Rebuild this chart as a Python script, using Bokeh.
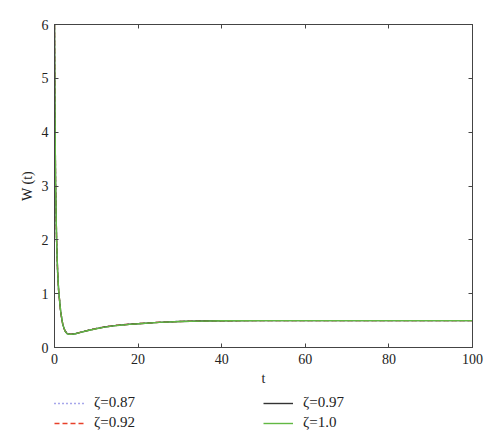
from bokeh.plotting import figure
from bokeh.layouts import column
from bokeh.models import LinearAxis, Legend, LegendItem, Range1d, FixedTicker
from bokeh.embed import file_html
from bokeh.resources import INLINE

# ---- data ----
t = [0, 0.1, 0.25, 0.5, 0.75, 1.0, 1.5, 2.0, 2.5, 3.0, 3.5, 4, 5, 6, 8, 10,
     12, 15, 18, 20, 25, 30, 35, 40, 50, 60, 70, 80, 90, 100]
W_087 = [6.0, 4.55, 3.05, 1.98, 1.38, 1.03, 0.64, 0.42, 0.31, 0.265, 0.25, 0.25,
         0.26, 0.28, 0.32, 0.355, 0.385, 0.415, 0.435, 0.445, 0.47, 0.485, 0.493,
         0.497, 0.5, 0.5, 0.5, 0.5, 0.5, 0.5]
W_092 = [6.0, 4.57, 3.07, 1.99, 1.39, 1.04, 0.645, 0.42, 0.31, 0.262, 0.247, 0.247,
         0.258, 0.278, 0.318, 0.352, 0.382, 0.413, 0.433, 0.443, 0.468, 0.484, 0.492,
         0.497, 0.5, 0.5, 0.5, 0.5, 0.5, 0.5]
W_097 = [6.0, 4.59, 3.09, 2.0, 1.4, 1.045, 0.65, 0.42, 0.31, 0.26, 0.245, 0.245,
         0.256, 0.276, 0.316, 0.35, 0.38, 0.411, 0.431, 0.441, 0.467, 0.483, 0.491,
         0.496, 0.5, 0.5, 0.5, 0.5, 0.5, 0.5]
W_100 = [6.0, 4.6, 3.1, 2.0, 1.4, 1.05, 0.65, 0.42, 0.31, 0.258, 0.243, 0.243,
         0.255, 0.275, 0.315, 0.349, 0.379, 0.41, 0.43, 0.44, 0.466, 0.482, 0.49,
         0.496, 0.5, 0.5, 0.5, 0.5, 0.5, 0.5]
labels = ["ζ=0.87", "ζ=0.92", "ζ=0.97", "ζ=1.0"]
x_ticks = [0, 20, 40, 60, 80, 100]
y_ticks = [0, 1, 2, 3, 4, 5, 6]

FONT = "Liberation Serif"
AX = "#444444"
colors = ["#5050d8", "#e8402a", "#333333", "#62b843"]
dashes = ["1 3", "5 3", "solid", "solid"]
series = [W_087, W_092, W_097, W_100]

p = figure(width=500, height=388, output_backend="svg", toolbar_location=None,
           x_range=Range1d(0, 100), y_range=Range1d(0, 6),
           min_border_left=54, min_border_top=24, min_border_right=28,
           min_border_bottom=39)
p.grid.visible = False
p.outline_line_color = AX
p.background_fill_color = "white"
p.border_fill_color = "white"

for ax in (p.xaxis[0], p.yaxis[0]):
    ax.major_tick_in = 4
    ax.major_tick_out = 0
    ax.minor_tick_in = 0
    ax.minor_tick_out = 0
    ax.axis_line_color = AX
    ax.major_tick_line_color = AX
    ax.major_label_text_font = FONT
    ax.major_label_text_font_size = "14px"
    ax.major_label_text_color = "#222222"
    ax.axis_label_text_font = FONT
    ax.axis_label_text_font_size = "14px"
    ax.axis_label_text_font_style = "normal"
    ax.axis_label_text_color = "#222222"
    ax.major_label_standoff = 6
    ax.axis_label_standoff = 4

p.xaxis[0].ticker = FixedTicker(ticks=x_ticks)
p.yaxis[0].ticker = FixedTicker(ticks=y_ticks)
p.xaxis[0].axis_label = "t"
p.yaxis[0].axis_label = "W (t)"

mirror = dict(major_label_text_font_size="1px", major_label_text_color=None,
              major_label_standoff=0, major_tick_in=4, major_tick_out=0,
              minor_tick_in=0, minor_tick_out=0, axis_line_color=AX,
              major_tick_line_color=AX)
top = LinearAxis(ticker=FixedTicker(ticks=x_ticks), **mirror)
right = LinearAxis(ticker=FixedTicker(ticks=y_ticks), **mirror)
p.add_layout(top, "above")
p.add_layout(right, "right")

for ys, c, d in zip(series, colors, dashes):
    p.line(t, ys, line_color=c, line_width=1.4, line_dash=d)

# legend panel below the chart (its lines lie outside its visible range)
q = figure(width=500, height=58, output_backend="svg", toolbar_location=None,
           x_range=Range1d(-20, -10), y_range=Range1d(-20, -10),
           x_axis_location=None, y_axis_location=None,
           min_border_left=0, min_border_right=0, min_border_top=0,
           min_border_bottom=0, outline_line_color=None)
q.grid.visible = False
keys = [q.line(t, ys, line_color=c, line_width=1.4, line_dash=d)
        for ys, c, d in zip(series, colors, dashes)]

common = dict(padding=0, margin=0, spacing=3, glyph_width=30, glyph_height=16,
              label_standoff=10, label_text_font=FONT, label_text_font_size="15px",
              label_text_color="#222222", border_line_color=None,
              background_fill_alpha=0)
leg1 = Legend(items=[LegendItem(label=labels[0], renderers=[keys[0]]),
                     LegendItem(label=labels[1], renderers=[keys[1]])],
              location=(0, 15), **common)
leg2 = Legend(items=[LegendItem(label=labels[2], renderers=[keys[2]]),
                     LegendItem(label=labels[3], renderers=[keys[3]])],
              location=(209, 15), **common)
q.add_layout(leg1)
q.add_layout(leg2)

open("out.html", "w").write(file_html(column(p, q, spacing=0), INLINE))
